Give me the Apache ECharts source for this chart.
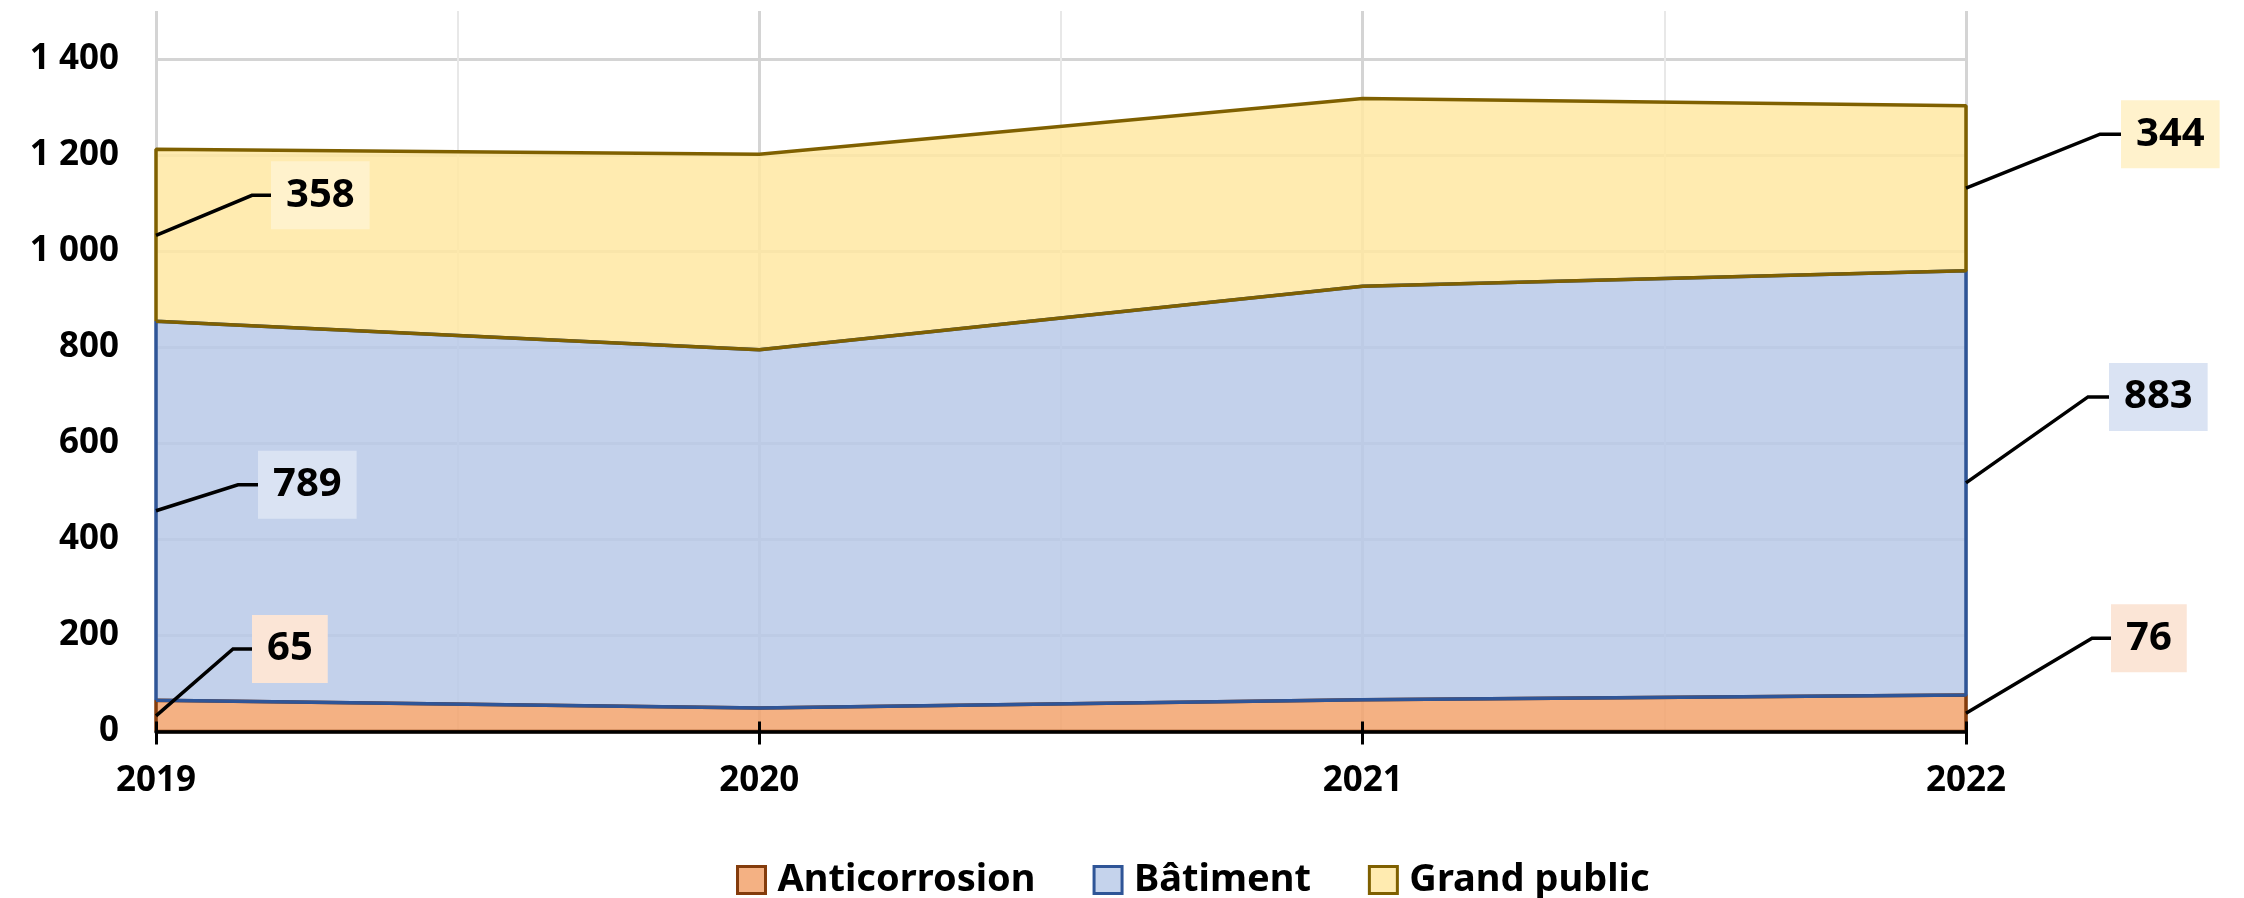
<!DOCTYPE html>
<html>
<head>
<meta charset="utf-8">
<script src="https://cdn.jsdelivr.net/npm/echarts@6/dist/echarts.min.js"></script>
<style>
  html, body { margin: 0; padding: 0; background: #fff; }
  #chart { width: 2244px; height: 898px; }
</style>
</head>
<body>
<div id="chart"></div>
<script>
// data
const years = [2019, 2020, 2021, 2022]
const anticorrosion = [65, 49, 66, 76]
const batiment = [789, 746, 861, 883]
const grandPublic = [358, 407, 391, 344]
const seriesNames = ['Anticorrosion', 'Bâtiment', 'Grand public']
const labelledYears = [0, 3] // indexes of the years that carry a callout

const layers = [anticorrosion, batiment, grandPublic]

// styles
const FONT = 'Noto Sans'
const fills = ['#F4B183', '#C5D3EC', '#FFEBB0']
const areaFills = ['#F2A36D', '#B9C9E8', '#FFE8A2'] // drawn semi-transparent over the grid
const borders = ['#843C0C', '#2F5597', '#7F6000']
const boxFills = ['#FBE5D6', '#DAE3F3', '#FFF2CC']
// callout leader geometry in px: [bend dx, bend dy, horizontal length]
const calloutGeom = {
  '0-0': [77, -67, 19], '1-0': [82, -26, 20], '2-0': [96, -40, 19],
  '0-3': [126, -75, 19], '1-3': [122, -86, 21], '2-3': [134, -54, 21]
}

// cumulative bottoms of each layer
const bottoms = layers.map((_, s) =>
  years.map((_, i) => layers.slice(0, s).reduce((acc, arr) => acc + arr[i], 0))
)

const outlinePoints = (s) => {
  const lo = bottoms[s]
  const hi = years.map((_, i) => lo[i] + layers[s][i])
  const pts = [[years[0], lo[0]]]
  years.forEach((y, i) => pts.push([y, hi[i]]))
  const last = years.length - 1
  pts.push([years[last], lo[last]])
  for (let i = last; i >= 0; i--) pts.push([years[i], lo[i]])
  return pts
}

const calloutData = []
layers.forEach((arr, s) => {
  labelledYears.forEach((i) => {
    calloutData.push({ value: [years[i], bottoms[s][i] + arr[i] / 2, arr[i], s, i] })
  })
})

const fmtThousands = (v) => String(v).replace(/\B(?=(\d{3})+(?!\d))/g, ' ')

const chart = echarts.init(document.getElementById('chart'), null, { renderer: 'canvas' })

// stacked fills on the category axis
const areaSeries = layers.map((arr, s) => ({
  name: seriesNames[s],
  type: 'line',
  stack: 'total',
  symbol: 'none',
  silent: true,
  xAxisIndex: 0,
  z: 2,
  data: arr,
  lineStyle: { width: 0 },
  itemStyle: { color: fills[s], borderColor: borders[s], borderWidth: 3 },
  areaStyle: { color: areaFills[s], opacity: 0.85 }
}))

// closed outlines of each band (value axis, so the sides can be vertical)
const outlineSeries = layers.map((_, s) => ({
  name: 'outline-' + s,
  type: 'line',
  symbol: 'none',
  silent: true,
  clip: false,
  xAxisIndex: 1,
  z: 3,
  data: outlinePoints(s),
  lineStyle: { color: borders[s], width: 3.5 }
}))

const calloutSeries = {
  type: 'custom',
  name: 'callouts',
  silent: true,
  clip: false,
  xAxisIndex: 1,
  z: 20,
  data: calloutData,
  renderItem: (params, api) => {
    const p = api.coord([api.value(0), api.value(1)])
    const s = api.value(3)
    const [dx, dy, h] = calloutGeom[s + '-' + api.value(4)]
    const bx = p[0] + dx
    const by = p[1] + dy
    return {
      type: 'group',
      children: [
        {
          type: 'polyline',
          shape: { points: [p, [bx, by], [bx + h, by]] },
          style: { stroke: '#000', lineWidth: 3.5, fill: null }
        },
        {
          type: 'text',
          x: bx + h,
          y: by,
          style: {
            text: String(api.value(2)),
            fontFamily: FONT,
            fontSize: 40,
            fontWeight: 'bold',
            fill: '#000',
            align: 'left',
            verticalAlign: 'middle',
            backgroundColor: boxFills[s],
            padding: [14, 15, 14, 15]
          }
        }
      ]
    }
  }
}

chart.setOption({
  animation: false,
  backgroundColor: '#fff',
  grid: { left: 156, right: 278, top: 11, bottom: 166.5, outerBoundsMode: 'none', containLabel: false },
  legend: {
    left: 731,
    top: 856,
    icon: 'rect',
    itemWidth: 28,
    itemHeight: 27,
    itemGap: 57,
    data: seriesNames.map((n, s) => ({
      name: n,
      itemStyle: { color: fills[s], borderColor: borders[s], borderWidth: 3 }
    })),
    textStyle: { fontFamily: FONT, fontSize: 38, fontWeight: 'bold', color: '#000', padding: [0, 0, 0, 7] }
  },
  xAxis: [
    {
      type: 'category', data: years.map(String), boundaryGap: false,
      position: 'bottom', z: 10,
      axisLine: { show: true, onZero: false, lineStyle: { color: '#000', width: 3.5 } },
      axisTick: { show: true, inside: false, length: 13, alignWithLabel: true, lineStyle: { color: '#000', width: 3 } },
      axisLabel: { margin: 32, color: '#000', fontFamily: FONT, fontSize: 35, fontWeight: 'bold' },
      splitLine: { show: false }
    },
    {
      type: 'value', min: years[0], max: years[years.length - 1], interval: 1,
      position: 'bottom', z: 0,
      axisLine: { show: false, onZero: false },
      axisTick: { show: false },
      axisLabel: { show: false },
      minorTick: { show: false, splitNumber: 2 },
      splitLine: { show: true, lineStyle: { color: '#D4D4D4', width: 3 } },
      minorSplitLine: { show: true, lineStyle: { color: '#E8E8E8', width: 2 } }
    },
    {
      type: 'value', min: years[0], max: years[years.length - 1], interval: 1,
      position: 'bottom', z: 10,
      axisLine: { show: false, onZero: false },
      axisTick: { show: true, inside: true, length: 10, lineStyle: { color: '#000', width: 3 } },
      axisLabel: { show: false },
      splitLine: { show: false }
    }
  ],
  yAxis: {
    type: 'value', min: 0, max: 1500, interval: 200,
    axisLine: { show: false },
    axisTick: { show: false },
    axisLabel: {
      margin: 37, color: '#000', fontFamily: FONT, fontSize: 35, fontWeight: 'bold',
      showMaxLabel: false,
      formatter: fmtThousands
    },
    splitLine: { show: true, showMaxLine: false, showMinLine: false, lineStyle: { color: '#D4D4D4', width: 3 } }
  },
  series: [...areaSeries, ...outlineSeries, calloutSeries]
})
</script>
</body>
</html>
